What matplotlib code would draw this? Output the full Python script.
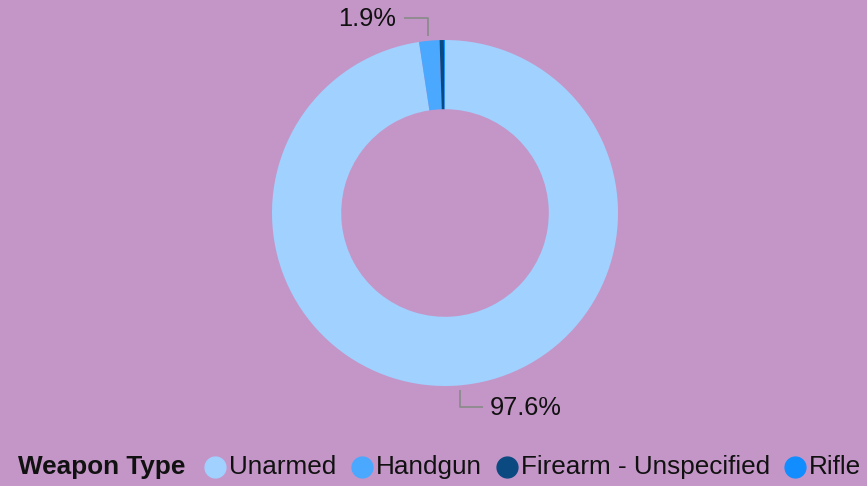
import matplotlib
matplotlib.use("Agg")
import matplotlib.pyplot as plt
from matplotlib.lines import Line2D

weapon_types = ["Unarmed", "Handgun", "Firearm - Unspecified", "Rifle"]
shares = [97.6, 1.9, 0.4, 0.1]
colors = ["#A0D1FF", "#4AA8FF", "#0B4A80", "#118DFF"]
legend_title = "Weapon Type"

bg = "#C496C8"
plt.rcParams["font.family"] = ["Liberation Sans", "DejaVu Sans"]

fig = plt.figure(figsize=(8.67, 4.86), dpi=100, facecolor=bg)
W, H = 867, 486

# donut: centre (445, 213) px from top-left, outer radius 173 px
cx, cy, r_px = 445, 213, 173
half = 200
ax = fig.add_axes([(cx - half) / W, (H - cy - half) / H, 2 * half / W, 2 * half / H])
ax.set_facecolor(bg)

wedges, _ = ax.pie(shares, colors=colors, startangle=90, counterclock=False,
                   radius=1, wedgeprops=dict(width=0.40, edgecolor="none"))
lim = half / r_px
ax.set_xlim(-lim, lim)
ax.set_ylim(-lim, lim)
ax.set_aspect("equal")
ax.axis("off")

def px(x, y):
    # figure pixel (from top-left) -> axes data coords
    return ((x - cx) / r_px, (cy - y) / r_px)

line_kw = dict(color="#8C8C8C", lw=1.3, solid_capstyle="butt")
fs = 18.3

# 97.6% label
p = [px(460, 390), px(460, 407), px(483, 407)]
ax.plot([q[0] for q in p], [q[1] for q in p], **line_kw)
ax.text(*px(490, 408), f"{shares[0]}%", ha="left", va="center", fontsize=fs, color="#111111")

# 1.9% label
p = [px(428, 36), px(428, 18), px(404, 18)]
ax.plot([q[0] for q in p], [q[1] for q in p], **line_kw)
ax.text(*px(396, 19), f"{shares[1]}%", ha="right", va="center", fontsize=fs, color="#111111")

# legend row
fig.canvas.draw()
renderer = fig.canvas.get_renderer()
ly = (H - 467) / H
lfs = 18.8
t = fig.text(18 / W, ly, legend_title, fontsize=lfs, fontweight="bold", ha="left", va="center",
             color="#111111")
x = t.get_window_extent(renderer).x1 + 30
for name, c in zip(weapon_types, colors):
    fig.add_artist(Line2D([x / W], [ly], marker="o", markersize=15, color=c, transform=fig.transFigure))
    tt = fig.text((x + 14) / W, ly, name, fontsize=lfs, ha="left", va="center", color="#111111")
    x = tt.get_window_extent(renderer).x1 + 25

fig.savefig("out.png", dpi=100, facecolor=bg)
